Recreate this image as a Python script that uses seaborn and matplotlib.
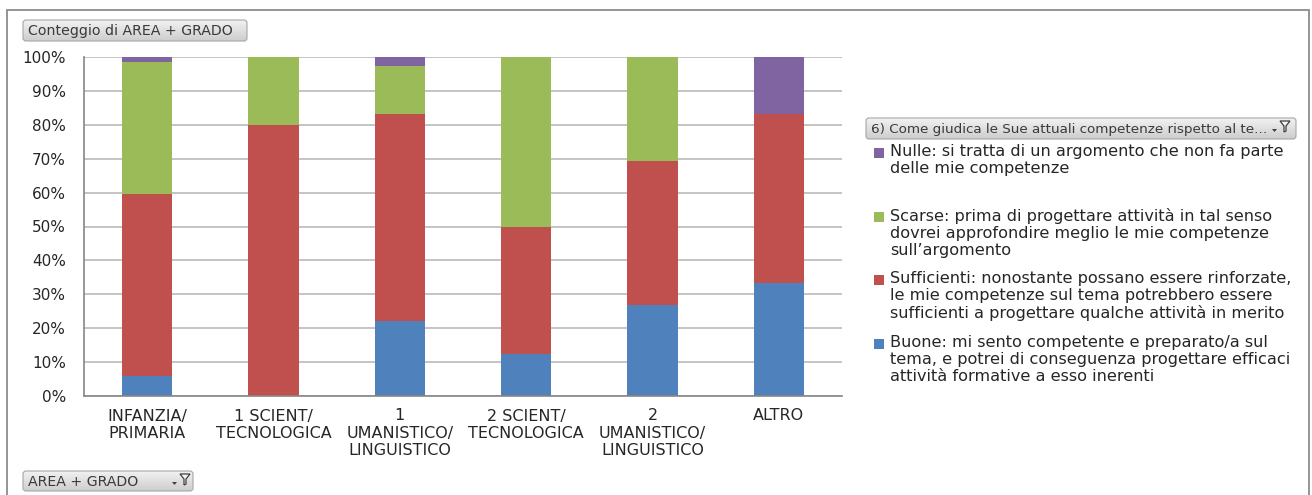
import numpy as np
import pandas as pd
import matplotlib
matplotlib.use("Agg")
import matplotlib.pyplot as plt
import seaborn as sns
from matplotlib.patches import FancyBboxPatch, Rectangle, Polygon
from matplotlib.colors import LinearSegmentedColormap
from matplotlib.ticker import PercentFormatter

# ---- data -----------------------------------------------------------------
categories = [
    "INFANZIA/\nPRIMARIA",
    "1 SCIENT/\nTECNOLOGICA",
    "1\nUMANISTICO/\nLINGUISTICO",
    "2 SCIENT/\nTECNOLOGICA",
    "2\nUMANISTICO/\nLINGUISTICO",
    "ALTRO",
]
# share of answers (%) per area, stacked bottom to top
buone = [6.0, 0.0, 22.2, 12.5, 26.9, 33.3]
sufficienti = [53.7, 80.0, 61.1, 37.5, 42.3, 50.0]
scarse = [38.8, 20.0, 13.9, 50.0, 30.8, 0.0]
nulle = [1.5, 0.0, 2.8, 0.0, 0.0, 16.7]

series_names = ["Buone", "Sufficienti", "Scarse", "Nulle"]
series_colors = ["#4F81BD", "#C0504D", "#9BBB59", "#8064A2"]
series_labels = [
    "Buone: mi sento competente e preparato/a sul\n"
    "tema, e potrei di conseguenza progettare efficaci\n"
    "attività formative a esso inerenti",
    "Sufficienti: nonostante possano essere rinforzate,\n"
    "le mie competenze sul tema potrebbero essere\n"
    "sufficienti a progettare qualche attività in merito",
    "Scarse: prima di progettare attività in tal senso\n"
    "dovrei approfondire meglio le mie competenze\n"
    "sull’argomento",
    "Nulle: si tratta di un argomento che non fa parte\n"
    "delle mie competenze",
]
y_ticks = [0, 10, 20, 30, 40, 50, 60, 70, 80, 90, 100]

value_button = "Conteggio di AREA + GRADO"
axis_button = "AREA + GRADO"
legend_title = "6) Come giudica le Sue attuali competenze rispetto al te..."

# ---- style ----------------------------------------------------------------
sns.set_style("white")
plt.rcParams["font.family"] = ["DejaVu Sans"]
TEXT = "#262626"
AXIS = "#868686"
GRID = "#bfbfbf"

W, H = 1312, 495
fig = plt.figure(figsize=(W / 100, H / 100), dpi=100, facecolor="white")

# decoration layer in pixel coordinates (buttons, frame, legend)
deco = fig.add_axes([0, 0, 1, 1], zorder=-1)
deco.axis("off")

ax = fig.add_axes([84 / W, 1 - 396 / H, (842 - 84) / W, (396 - 57) / H])
ax.set_facecolor("none")

# ---- stacked bars ---------------------------------------------------------
df = pd.DataFrame({"area": categories, "Buone": buone, "Sufficienti": sufficienti,
                   "Scarse": scarse, "Nulle": nulle})
cum = df.set_index("area")[series_names].cumsum(axis=1).reset_index()

for name, color in reversed(list(zip(series_names, series_colors))):
    sns.barplot(data=cum, x="area", y=name, order=categories, color=color,
                saturation=1, width=0.4, linewidth=0, errorbar=None, ax=ax)

ax.set_xlabel("")
ax.set_ylabel("")
ax.set_xlim(-0.5, len(categories) - 0.5)
ax.set_ylim(0, 100)
ax.set_yticks(y_ticks)
ax.yaxis.set_major_formatter(PercentFormatter(100, decimals=0))
ax.grid(axis="y", color=GRID, lw=1.3)
ax.set_axisbelow(True)

ax.set_xticks(np.arange(-0.5, len(categories), 1), minor=True)
ax.tick_params(axis="x", which="major", length=0, pad=9, labelsize=11.5,
               labelcolor=TEXT)
ax.tick_params(axis="x", which="minor", length=4, width=1.2, color=AXIS,
               direction="out")
ax.tick_params(axis="y", length=5, width=1.3, color=GRID, pad=8,
               labelsize=11, labelcolor=TEXT)
for side in ("top", "right"):
    ax.spines[side].set_visible(False)
for side in ("left", "bottom"):
    ax.spines[side].set_color(AXIS)
    ax.spines[side].set_linewidth(1.2)

# ---- decorations ----------------------------------------------------------
grad_cmap = LinearSegmentedColormap.from_list("btn", ["#f2f2f2", "#cdcdcd"])


def button(x0, y0, x1, y1, text, fs, icon=None):
    patch = FancyBboxPatch((x0, y0), x1 - x0, y1 - y0,
                           boxstyle="round,pad=0,rounding_size=3",
                           facecolor="none", edgecolor="#a6a6a6", lw=0.8,
                           zorder=2)
    deco.add_patch(patch)
    grad = np.linspace(0, 1, 64).reshape(-1, 1)
    im = deco.imshow(grad, extent=(x0, x1, y1, y0), cmap=grad_cmap,
                     aspect="auto", zorder=1, interpolation="bilinear")
    im.set_clip_path(patch)
    deco.text(x0 + 5, (y0 + y1) / 2 + 0.5, text, ha="left", va="center",
              fontsize=fs, color="#3a3a3a", zorder=3)
    if icon is not None:
        fx, fy = icon
        deco.add_patch(Polygon([(fx, fy), (fx + 10, fy), (fx + 6, fy + 5),
                                (fx + 6, fy + 10), (fx + 4, fy + 11),
                                (fx + 4, fy + 5)], closed=True,
                               facecolor="#f4f4f4", edgecolor="#404040",
                               lw=0.9, zorder=3))
        deco.add_patch(Polygon([(fx - 8, fy + 8), (fx - 3, fy + 8),
                                (fx - 5.5, fy + 11)], closed=True,
                               facecolor="#404040", edgecolor="none",
                               zorder=3))


# outer chart frame
deco.plot([7, 7, 1309, 1309], [H, 10, 10, H], color="#8c8c8c", lw=1.3,
          solid_joinstyle="miter")

button(23, 20, 247, 41, value_button, 10.2)
button(23, 471, 193, 491, axis_button, 10.2, icon=(180, 474))
button(866, 118, 1296, 139, legend_title, 9.7, icon=(1280, 121))

# legend entries, top series first
entry_top = 153
entry_step = 63.5
for i, (label, color) in enumerate(zip(reversed(series_labels),
                                       reversed(series_colors))):
    yc = entry_top + i * entry_step
    deco.add_patch(Rectangle((874, yc - 5), 10, 10, facecolor=color,
                             edgecolor="none"))
    deco.text(890, yc - 9, label, ha="left", va="top", fontsize=11.6,
              color=TEXT, linespacing=1.17)

deco.set_xlim(0, W)
deco.set_ylim(H, 0)

fig.savefig("out.png", dpi=100, facecolor="white")
